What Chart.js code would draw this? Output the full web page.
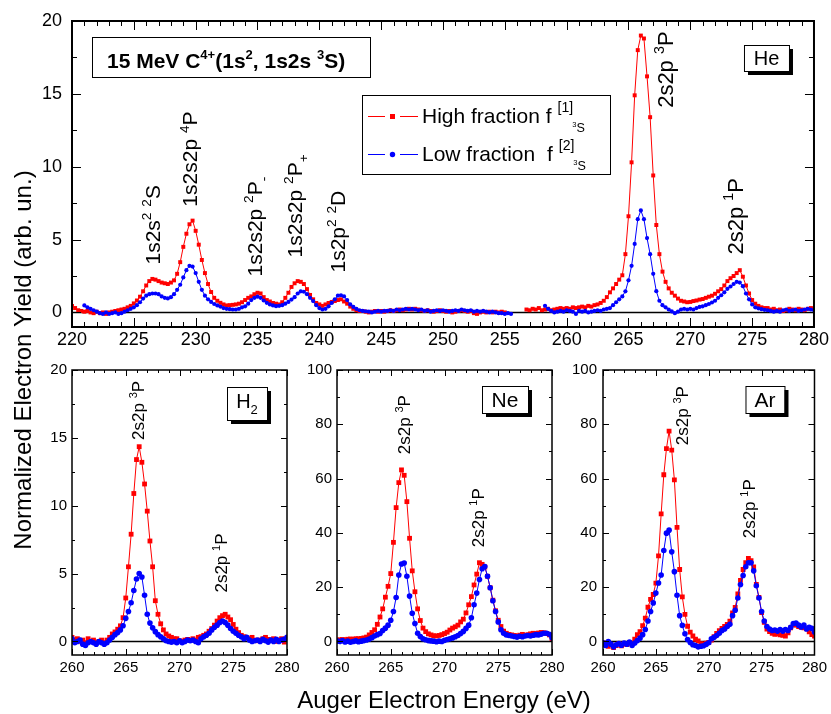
<!DOCTYPE html>
<html>
<head>
<meta charset="utf-8">
<title>Auger spectra, 15 MeV C4+</title>
<script src="https://cdn.jsdelivr.net/npm/chart.js@4.4.1/dist/chart.umd.min.js"></script>
<style>
  html, body { margin: 0; padding: 0; background: #fff; }
  #wrap { position: relative; width: 831px; height: 714px; overflow: hidden; background: #fff; }
  #wrap canvas { position: absolute; left: 0; top: 0; }
</style>
</head>
<body>
<div id="wrap">
  <canvas id="pHe" width="831" height="714"></canvas>
  <canvas id="pH2" width="831" height="714"></canvas>
  <canvas id="pNe" width="831" height="714"></canvas>
  <canvas id="pAr" width="831" height="714"></canvas>
</div>
<script>
// ---- energy grids (eV) ----
const HE_E0 = 220, HE_STEP = 0.25;   // He panel, 220 ... 280
const TG_E0 = 260, TG_STEP = 0.25;   // H2 / Ne / Ar panels, 260 ... 280

// ---- He target: one row per eV (x.00, x.25, x.50, x.75) ----
const HE_HIGH = [
  0.45, 0.30, 0.15, 0.10,   // 220
  0.05, 0.10, 0.00, -0.05,
  0.05, -0.05, 0.00, -0.10,
  0.00, 0.05, 0.10, 0.15,
  0.20, 0.25, 0.35, 0.45,
  0.62, 0.82, 1.08, 1.45,   // 225
  1.85, 2.15, 2.30, 2.25,
  2.15, 2.05, 2.00, 1.95,
  2.05, 2.20, 2.65, 3.45,
  4.50, 5.40, 6.05, 6.30,
  5.60, 4.65, 3.60, 2.70,   // 230
  1.95, 1.40, 1.00, 0.80,
  0.66, 0.55, 0.48, 0.50,
  0.52, 0.55, 0.60, 0.70,
  0.85, 1.00, 1.10, 1.25,
  1.35, 1.30, 1.05, 0.85,   // 235
  0.75, 0.65, 0.60, 0.55,
  0.70, 1.00, 1.35, 1.75,
  2.00, 2.15, 2.10, 1.95,
  1.60, 1.20, 0.90, 0.65,
  0.55, 0.45, 0.55, 0.65,   // 240
  0.72, 0.78, 0.85, 0.90,
  0.75, 0.60, 0.40, 0.25,
  0.15, 0.10, 0.10, 0.05,
  0.00, 0.05, 0.10, 0.05,
  0.10, 0.05, 0.10, 0.15,   // 245
  0.10, 0.15, 0.20, 0.15,
  0.20, 0.25, 0.20, 0.25,
  0.20, 0.15, 0.10, 0.15,
  0.10, 0.05, 0.10, 0.15,
  0.10, 0.05, 0.10, 0.00,   // 250
  0.05, 0.10, 0.15, 0.10,
  0.05, 0.10, -0.05, -0.10,
  0.00, 0.05, 0.00, 0.05,
  0.00, 0.05, 0.00, 0.05,
  0.00, null, null, null,   // 255
  null, null, null, 0.20,
  0.15, 0.25, 0.20, 0.30,
  0.15, 0.20, 0.25, 0.15,
  0.20, 0.25, 0.30, 0.25,
  0.30, 0.25, 0.35, 0.30,   // 260
  0.35, 0.40, 0.35, 0.45,
  0.40, 0.50, 0.55, 0.65,
  0.80, 1.05, 1.38, 1.65,
  1.95, 2.25, 2.55, 4.00,
  6.60, 10.30, 14.90, 18.00, // 265
  19.00, 18.80, 16.20, 13.40,
  9.40, 6.00, 4.00, 2.80,
  2.10, 1.65, 1.35, 1.15,
  0.95, 0.80, 0.75, 0.70,
  0.72, 0.78, 0.82, 0.88,   // 270
  0.92, 1.00, 1.08, 1.15,
  1.28, 1.45, 1.60, 1.85,
  2.15, 2.35, 2.50, 2.70,
  2.90, 2.45, 1.85, 1.30,
  0.85, 0.60, 0.45, 0.35,   // 275
  0.30, 0.30, 0.20, 0.25,
  0.15, 0.20, 0.10, 0.15,
  0.25, 0.20, 0.15, 0.25,
  0.20, 0.15, 0.25, 0.30,
  0.25                      // 280
];
const HE_LOW = [
  null, null, null, null,   // 220
  0.48, 0.35, 0.25, 0.15,
  0.05, -0.05, -0.10, 0.00,
  -0.10, -0.05, 0.00, -0.10,
  -0.05, 0.05, 0.15, 0.25,
  0.35, 0.50, 0.70, 0.95,   // 225
  1.15, 1.25, 1.30, 1.30,
  1.25, 1.10, 1.00, 0.96,
  1.05, 1.25, 1.55, 1.90,
  2.40, 2.90, 3.20, 3.15,
  2.70, 2.10, 1.55, 1.15,   // 230
  0.90, 0.72, 0.58, 0.48,
  0.40, 0.30, 0.25, 0.22,
  0.20, 0.20, 0.25, 0.35,
  0.42, 0.60, 0.85, 1.00,
  1.08, 1.00, 0.82, 0.66,   // 235
  0.55, 0.48, 0.43, 0.45,
  0.50, 0.60, 0.72, 0.88,
  1.05, 1.30, 1.45, 1.42,
  1.25, 1.00, 0.78, 0.50,
  0.30, 0.20, 0.25, 0.42,   // 240
  0.65, 0.90, 1.15, 1.18,
  1.10, 0.85, 0.55, 0.38,
  0.25, 0.15, 0.10, 0.08,
  0.05, 0.00, 0.05, 0.10,
  0.05, 0.10, 0.10, 0.15,   // 245
  0.10, 0.20, 0.15, 0.20,
  0.25, 0.20, 0.25, 0.20,
  0.15, 0.20, 0.10, 0.15,
  0.05, 0.10, 0.15, 0.10,
  0.15, 0.10, 0.05, 0.10,   // 250
  0.15, 0.10, 0.20, 0.15,
  0.10, 0.15, 0.05, 0.10,
  0.05, 0.10, 0.05, 0.00,
  0.05, 0.00, -0.05, -0.05,
  -0.10, -0.05, -0.10, null, // 255
  null, null, null, null,
  null, null, null, null,
  null, 0.45, 0.25, 0.10,
  0.00, 0.05, 0.10, 0.05,
  0.15, 0.10, 0.05, -0.10,  // 260
  0.10, 0.05, 0.10, 0.00,
  0.05, 0.10, 0.15, 0.10,
  0.20, 0.25, 0.30, 0.50,
  0.70, 0.90, 1.10, 1.45,
  2.20, 3.20, 4.70, 6.40,   // 265
  7.00, 6.40, 5.10, 4.00,
  2.65, 1.46, 0.80, 0.50,
  0.35, 0.20, 0.07, -0.05,
  0.05, 0.20, 0.25, 0.20,
  0.25, 0.20, 0.30, 0.38,   // 270
  0.42, 0.50, 0.58, 0.68,
  0.80, 1.00, 1.18, 1.38,
  1.62, 1.78, 1.95, 2.10,
  2.05, 1.80, 1.30, 0.90,
  0.55, 0.35, 0.28, 0.22,   // 275
  0.18, 0.15, 0.10, 0.05,
  0.10, 0.05, 0.15, 0.20,
  0.10, 0.15, 0.20, 0.10,
  0.15, 0.20, 0.25, 0.20,
  0.15                      // 280
];

// ---- H2 target ----
const H2_HIGH = [
  0.3, 0.1, 0.2, 0.0,       // 260
  0.1, -0.1, 0.2, 0.0,
  0.1, -0.1, 0.0, 0.1,
  -0.1, 0.1, 0.3, 0.55,
  0.7, 0.9, 1.15, 1.75,
  3.2, 5.5, 7.9, 10.9,      // 265
  13.4, 14.35, 13.2, 11.6,
  9.6, 7.4, 5.5, 3.0,
  2.0, 1.3, 0.85, 0.55,
  0.4, 0.3, 0.2, 0.2,
  0.05, 0.0, 0.1, 0.15,     // 270
  0.1, 0.2, 0.1, 0.3,
  0.35, 0.45, 0.55, 0.75,
  0.95, 1.2, 1.5, 1.75,
  1.9, 2.0, 1.8, 1.6,
  1.25, 0.9, 0.65, 0.45,    // 275
  0.35, 0.25, 0.2, 0.3,
  0.1, 0.05, 0.1, 0.2,
  0.3, 0.15, 0.1, 0.2,
  0.0, 0.1, 0.2, -0.05,
  0.2                       // 280
];
const H2_LOW = [
  0.2, -0.1, 0.0, 0.1,      // 260
  -0.2, -0.3, -0.1, 0.0,
  -0.1, -0.2, 0.0, -0.1,
  -0.2, -0.1, 0.1, 0.3,
  0.5, 0.65, 0.85, 1.15,
  1.7, 2.2, 2.85, 3.75,     // 265
  4.6, 5.0, 4.75, 3.4,
  2.0, 1.35, 1.0, 0.72,
  0.5, 0.35, 0.2, 0.05,
  0.0, -0.05, 0.0, -0.1,
  0.05, -0.1, 0.0, 0.1,     // 270
  0.05, 0.1, 0.0, -0.1,
  0.2, 0.35, 0.45, 0.6,
  0.85, 1.05, 1.2, 1.4,
  1.5, 1.4, 1.2, 0.95,
  0.75, 0.6, 0.45, 0.35,    // 275
  0.2, 0.3, 0.1, 0.0,
  0.05, 0.1, 0.0, 0.15,
  0.05, -0.05, 0.1, 0.0,
  0.15, 0.0, 0.1, 0.15,
  0.3                       // 280
];

// ---- Ne target ----
const NE_HIGH = [
  0.5, 0.6, 0.7, 0.6,       // 260
  0.8, 0.9, 0.8, 1.0,
  1.0, 1.1, 1.3, 1.6,
  2.4, 3.3, 4.3, 6.3,
  9.0, 12.0, 16.3, 20.3,
  25.0, 36.5, 49.3, 58.5,   // 265
  63.2, 61.2, 51.5, 38.0,
  26.0, 18.3, 12.0, 7.7,
  4.9, 3.6, 2.8, 2.4,
  2.1, 2.0, 2.2, 2.5,
  2.9, 3.4, 4.2, 4.9,       // 270
  5.4, 6.0, 7.2, 8.2,
  10.5, 13.5, 16.5, 20.8,
  24.8, 29.0, 28.4, 27.4,
  24.0, 19.8, 15.2, 11.3,
  7.8, 5.5, 3.8, 3.0,       // 275
  2.6, 2.4, 2.2, 2.0,
  2.3, 2.6, 2.2, 2.5,
  2.8, 3.0, 2.9, 3.1,
  3.3, 3.2, 2.9, 2.4,
  1.0                       // 280
];
const NE_LOW = [
  0.2, 0.0, 0.3, -0.2,      // 260
  0.1, -0.3, 0.0, 0.2,
  -0.1, 0.1, 0.3, 0.5,
  0.9, 1.4, 2.0, 2.5,
  2.9, 4.0, 4.9, 6.0,
  7.8, 11.0, 16.2, 24.5,    // 265
  28.5, 28.9, 24.0, 16.7,
  10.4, 6.6, 3.0, 1.8,
  1.0, 0.6, 0.3, 0.2,
  0.1, -0.1, 0.1, 0.0,
  0.4, 0.7, 1.0, 1.3,       // 270
  1.7, 2.2, 2.9, 3.7,
  4.8, 6.0, 8.7, 13.5,
  17.8, 22.8, 26.8, 27.6,
  24.0, 19.8, 15.0, 11.0,
  7.2, 4.3, 3.0, 2.4,       // 275
  2.2, 2.0, 1.8, 1.6,
  1.9, 1.7, 2.0, 2.2,
  2.0, 2.3, 2.5, 2.4,
  2.7, 3.0, 3.0, 2.6,
  1.4                       // 280
];

// ---- Ar target ----
const AR_HIGH = [
  -1.0, -0.5, -1.8, -1.2,   // 260
  -2.3, -1.5, -0.8, -1.6,
  -0.9, -1.2, -0.5, -0.8,
  0.8, 2.5, 3.6, 5.8,
  8.6, 12.6, 15.5, 17.3,
  21.5, 31.5, 47.0, 61.4,   // 265
  71.0, 77.5, 70.5, 59.5,
  42.0, 26.5, 16.4, 10.0,
  5.6, 3.4, 2.0, 0.8,
  0.2, -0.8, -1.0, -0.6,
  -0.4, 0.5, 1.8, 3.0,      // 270
  4.0, 4.8, 5.5, 6.3,
  7.5, 10.5, 12.5, 17.5,
  22.5, 26.5, 29.0, 30.6,
  29.8, 27.5, 21.0, 16.2,
  10.6, 7.0, 4.5, 3.6,      // 275
  3.0, 2.6, 2.8, 2.4,
  2.2, 2.0, 3.2, 5.0,
  6.1, 6.0, 5.5, 5.2,
  5.0, 4.6, 3.5, 2.5,
  2.0                       // 280
];
const AR_LOW = [
  -0.5, -1.5, 0.0, -1.0,    // 260
  -2.0, -1.2, -0.8, -1.4,
  -0.6, -1.0, -0.2, -1.5,
  -0.6, 0.3, 1.2, 2.5,
  4.4, 7.5, 11.0, 14.2,
  17.8, 21.5, 24.5, 33.5,   // 265
  39.9, 41.0, 33.0, 25.7,
  17.0, 9.5, 5.9, 2.8,
  0.7, -0.4, -1.2, -1.5,
  -2.0, -1.8, -1.6, -1.1,
  -0.5, 1.0, 1.5, 2.2,      // 270
  3.0, 4.0, 4.6, 5.5,
  6.3, 9.5, 11.5, 16.0,
  21.0, 24.3, 27.5, 29.0,
  29.0, 26.0, 20.5, 16.0,
  11.0, 7.5, 5.5, 4.6,      // 275
  4.0, 4.2, 3.8, 4.4,
  3.8, 4.4, 4.0, 5.2,
  6.6, 6.8, 6.0, 5.3,
  6.0, 4.6, 5.2, 4.8,
  3.5                       // 280
];

// ---- axis tick labels ----
const HE_XTICKS = [220, 225, 230, 235, 240, 245, 250, 255, 260, 265, 270, 275, 280];
const HE_YTICKS = [0, 5, 10, 15, 20];
const TG_XTICKS = [260, 265, 270, 275, 280];
const H2_YTICKS = [0, 5, 10, 15, 20];
const NE_YTICKS = [0, 20, 40, 60, 80, 100];
const AR_YTICKS = [0, 20, 40, 60, 80, 100];

const RED = '#ff0000';
const BLUE = '#0000ff';
const FONT = "'Liberation Sans', Arial, Helvetica, sans-serif";

const SUP = (t) => ({ t, s: 0.65, dy: -0.42 });
const SUB = (t) => ({ t, s: 0.65, dy: 0.28 });

function toPoints(e0, step, vals) {
  return vals.map((v, i) => ({ x: +(e0 + i * step).toFixed(2), y: v }));
}

function richWidth(ctx, segs, size, weight) {
  let w = 0;
  for (const sg of segs) {
    ctx.font = `${weight || 'normal'} ${size * (sg.s || 1)}px ${FONT}`;
    w += (sg.dx || 0) + ctx.measureText(sg.t).width;
  }
  return w;
}

function drawRich(ctx, segs, x, y, size, weight) {
  let cx = x;
  for (const sg of segs) {
    ctx.font = `${weight || 'normal'} ${size * (sg.s || 1)}px ${FONT}`;
    cx += sg.dx || 0;
    ctx.fillText(sg.t, cx, y + (sg.dy || 0) * size);
    cx += ctx.measureText(sg.t).width;
  }
  return cx - x;
}

function stepValues(min, max, step) {
  const out = [];
  for (let v = Math.ceil(min / step - 1e-9) * step; v <= max + 1e-9; v += step) out.push(+v.toFixed(4));
  return out;
}

// ---- panel settings ----
const P3 = [{ t: '2s2p ' }, SUP('3'), { t: 'P' }];
const P1 = [{ t: '2s2p ' }, SUP('1'), { t: 'P' }];

const PANELS = {
  pHe: {
    e0: HE_E0, step: HE_STEP, high: HE_HIGH, low: HE_LOW,
    xMin: 220, xMax: 280, yMin: -1, yMax: 20,
    xTicks: HE_XTICKS, yTicks: HE_YTICKS, xMinor: 1, yMinor: 2.5,
    pad: { left: 22, right: 14, top: 21, bottom: 357 }, yW: 50, xH: 30,
    tickFont: 18, xPad: 2, yPad: 10,
    rectR: 2.8, circR: 2.1, majLen: 9, minLen: 5, frameW: 2, zeroW: 1.6,
    tag: { segs: [{ t: 'He' }], size: 20, dxRight: 25, dyTop: 24, w: 45, h: 26 },
    notes: [
      { e: 227.08, v: 3.29, size: 21, segs: [{ t: '1s2s' }, SUP('2'), { t: ' ' }, SUP('2'), { t: 'S' }] },
      { e: 230.14, v: 7.26, size: 21, segs: [{ t: '1s2s2p ' }, SUP('4'), { t: 'P' }] },
      { e: 235.37, v: 2.47, size: 21, segs: [{ t: '1s2s2p ' }, SUP('2'), { t: 'P' }, SUB('-')] },
      { e: 238.58, v: 3.77, size: 21, segs: [{ t: '1s2s2p ' }, SUP('2'), { t: 'P' }, SUB('+')] },
      { e: 242.04, v: 2.74, size: 21, segs: [{ t: '1s2p' }, SUP('2'), { t: ' ' }, SUP('2'), { t: 'D' }] },
      { e: 268.59, v: 14.04, size: 22, segs: P3 },
      { e: 274.22, v: 3.97, size: 22, segs: P1 }
    ]
  },
  pH2: {
    e0: TG_E0, step: TG_STEP, high: H2_HIGH, low: H2_LOW,
    xMin: 260, xMax: 280, yMin: -1, yMax: 20,
    xTicks: TG_XTICKS, yTicks: H2_YTICKS, xMinor: 1, yMinor: 2.5,
    pad: { left: 32, right: 544, top: 370, bottom: 34 }, yW: 40, xH: 25,
    tickFont: 15, xPad: 4, yPad: 5,
    rectR: 3.4, circR: 2.8, majLen: 6, minLen: 3, frameW: 1.5, zeroW: 1.4,
    tag: { segs: [{ t: 'H' }, { t: '2', s: 0.65, dy: 0.3 }], size: 20, dxRight: 20, dyTop: 17, w: 40, h: 33, base: 21 },
    notes: [
      { e: 266.70, v: 14.85, size: 17, segs: P3 },
      { e: 274.42, v: 3.6, size: 17, segs: P1 }
    ]
  },
  pNe: {
    e0: TG_E0, step: TG_STEP, high: NE_HIGH, low: NE_LOW,
    xMin: 260, xMax: 280, yMin: -5, yMax: 100,
    xTicks: TG_XTICKS, yTicks: NE_YTICKS, xMinor: 1, yMinor: 10,
    pad: { left: 297, right: 279, top: 370, bottom: 34 }, yW: 40, xH: 25,
    tickFont: 15, xPad: 4, yPad: 5,
    rectR: 3.4, circR: 2.8, majLen: 6, minLen: 3, frameW: 1.5, zeroW: 1.4,
    tag: { segs: [{ t: 'Ne' }], size: 21, dxRight: 24, dyTop: 16, w: 46, h: 27 },
    notes: [
      { e: 266.79, v: 69.0, size: 17, segs: P3 },
      { e: 273.67, v: 34.7, size: 17, segs: P1 }
    ]
  },
  pAr: {
    e0: TG_E0, step: TG_STEP, high: AR_HIGH, low: AR_LOW,
    xMin: 260, xMax: 280, yMin: -5, yMax: 100,
    xTicks: TG_XTICKS, yTicks: AR_YTICKS, xMinor: 1, yMinor: 10,
    pad: { left: 563, right: 14, top: 370, bottom: 34 }, yW: 40, xH: 25,
    tickFont: 15, xPad: 4, yPad: 6,
    rectR: 3.4, circR: 2.8, majLen: 6, minLen: 3, frameW: 1.5, zeroW: 1.4,
    tag: { segs: [{ t: 'Ar' }], size: 21, dxRight: 30, dyTop: 16, w: 39, h: 27 },
    notes: [
      { e: 268.04, v: 72.3, size: 17, segs: P3 },
      { e: 274.39, v: 38.0, size: 17, segs: P1 }
    ]
  }
};

// frame, inward ticks, baseline, level labels and target tag
const panelPlugin = {
  id: 'panelDecor',
  beforeDatasetsDraw(chart) {
    const cfg = PANELS[chart.canvas.id];
    const { ctx, chartArea: a, scales: { y } } = chart;
    const y0 = y.getPixelForValue(0);
    ctx.save();
    ctx.strokeStyle = '#000';
    ctx.lineWidth = cfg.zeroW;
    ctx.beginPath();
    ctx.moveTo(a.left, y0);
    ctx.lineTo(a.right, y0);
    ctx.stroke();
    ctx.restore();
  },
  afterDatasetsDraw(chart) {
    const cfg = PANELS[chart.canvas.id];
    const { ctx, chartArea: a, scales: { x, y } } = chart;
    ctx.save();
    ctx.strokeStyle = '#000';
    ctx.lineWidth = 1;
    const xMinor = stepValues(cfg.xMin, cfg.xMax, cfg.xMinor).filter(v => !cfg.xTicks.includes(v));
    const yMinor = stepValues(cfg.yMin, cfg.yMax, cfg.yMinor).filter(v => !cfg.yTicks.includes(v));
    ctx.beginPath();
    const xt = (vals, len) => vals.forEach(v => {
      const px = Math.round(x.getPixelForValue(v)) + 0.5;
      ctx.moveTo(px, a.bottom); ctx.lineTo(px, a.bottom - len);
      ctx.moveTo(px, a.top); ctx.lineTo(px, a.top + len);
    });
    const yt = (vals, len) => vals.forEach(v => {
      const py = Math.round(y.getPixelForValue(v)) + 0.5;
      ctx.moveTo(a.left, py); ctx.lineTo(a.left + len, py);
      ctx.moveTo(a.right, py); ctx.lineTo(a.right - len, py);
    });
    xt(cfg.xTicks, cfg.majLen); xt(xMinor, cfg.minLen);
    yt(cfg.yTicks, cfg.majLen); yt(yMinor, cfg.minLen);
    ctx.stroke();

    ctx.lineWidth = cfg.frameW;
    ctx.strokeRect(a.left, a.top, a.right - a.left, a.bottom - a.top);

    // state labels, reading upwards
    ctx.fillStyle = '#000';
    ctx.textBaseline = 'alphabetic';
    ctx.textAlign = 'left';
    for (const n of cfg.notes) {
      ctx.save();
      ctx.translate(x.getPixelForValue(n.e), y.getPixelForValue(n.v));
      ctx.rotate(-Math.PI / 2);
      drawRich(ctx, n.segs, 0, 0, n.size);
      ctx.restore();
    }

    // target tag with drop shadow
    const t = cfg.tag;
    const bx = a.right - t.dxRight - t.w, by = a.top + t.dyTop;
    ctx.fillStyle = '#000';
    ctx.fillRect(bx + 4, by + 4, t.w, t.h);
    ctx.fillStyle = '#fff';
    ctx.fillRect(bx, by, t.w, t.h);
    ctx.lineWidth = 1;
    ctx.strokeRect(bx + 0.5, by + 0.5, t.w, t.h);
    ctx.fillStyle = '#000';
    const tw = richWidth(ctx, t.segs, t.size);
    const base = t.base !== undefined ? by + t.base : by + t.h / 2 + 0.36 * t.size;
    drawRich(ctx, t.segs, bx + (t.w - tw) / 2, base, t.size);
    ctx.restore();
  }
};

// title box, legend and shared axis titles (drawn once, on the He panel)
const sheetPlugin = {
  id: 'sheetDecor',
  afterDraw(chart) {
    if (chart.canvas.id !== 'pHe') return;
    const ctx = chart.ctx;
    ctx.save();
    ctx.fillStyle = '#000';
    ctx.strokeStyle = '#000';
    ctx.textAlign = 'left';
    ctx.textBaseline = 'alphabetic';

    // projectile box
    ctx.fillStyle = '#fff';
    ctx.fillRect(92, 37, 278, 40);
    ctx.lineWidth = 1;
    ctx.strokeRect(92.5, 37.5, 278, 40);
    ctx.fillStyle = '#000';
    drawRich(ctx, [
      { t: '15 MeV C' }, { t: '4+', s: 0.62, dy: -0.45 }, { t: '(1s' }, { t: '2', s: 0.62, dy: -0.45 },
      { t: ', 1s2s ' }, { t: '3', s: 0.62, dy: -0.45 }, { t: 'S)' }
    ], 107, 68, 21, 'bold');

    // legend
    ctx.fillStyle = '#fff';
    ctx.fillRect(362, 95, 248, 79);
    ctx.strokeRect(362.5, 95.5, 248, 79);
    const rows = [
      { c: RED, y: 116, base: 123, mark: 'rect', segs: [{ t: 'High fraction f' }, { t: '[1]', s: 0.67, dy: -0.52, dx: 6 }, { t: '3', s: 0.36, dy: 0.2, dx: -1 }, { t: 'S', s: 0.6, dy: 0.42 }] },
      { c: BLUE, y: 154, base: 161, mark: 'circle', segs: [{ t: 'Low fraction  f' }, { t: '[2]', s: 0.67, dy: -0.52, dx: 6 }, { t: '3', s: 0.36, dy: 0.2, dx: -1 }, { t: 'S', s: 0.6, dy: 0.42 }] }
    ];
    for (const r of rows) {
      ctx.strokeStyle = r.c;
      ctx.lineWidth = 1;
      ctx.beginPath();
      ctx.moveTo(368, r.y + 0.5); ctx.lineTo(385, r.y + 0.5);
      ctx.moveTo(400, r.y + 0.5); ctx.lineTo(418, r.y + 0.5);
      ctx.stroke();
      ctx.fillStyle = r.c;
      if (r.mark === 'rect') {
        ctx.fillRect(390, r.y - 2, 5, 5);
      } else {
        ctx.beginPath(); ctx.arc(392.5, r.y + 0.5, 2.7, 0, Math.PI * 2); ctx.fill();
      }
      ctx.fillStyle = '#000';
      drawRich(ctx, r.segs, 422, r.base, 21);
    }

    // axis titles
    ctx.font = `24px ${FONT}`;
    ctx.textAlign = 'center';
    ctx.fillText('Auger Electron Energy (eV)', 444, 708);
    ctx.save();
    ctx.translate(31, 360);
    ctx.rotate(-Math.PI / 2);
    ctx.fillText('Normalized Electron Yield (arb. un.)', 0, 0);
    ctx.restore();
    ctx.restore();
  }
};

function makePanel(id) {
  const cfg = PANELS[id];
  const tickFont = { family: FONT, size: cfg.tickFont };
  return new Chart(document.getElementById(id), {
    type: 'line',
    data: {
      datasets: [
        {
          label: 'High fraction',
          data: toPoints(cfg.e0, cfg.step, cfg.high),
          borderColor: RED, backgroundColor: RED,
          pointBackgroundColor: RED, pointBorderColor: RED,
          pointStyle: 'rect', pointRadius: cfg.rectR, pointBorderWidth: 0,
          borderWidth: 1, tension: 0, order: 2
        },
        {
          label: 'Low fraction',
          data: toPoints(cfg.e0, cfg.step, cfg.low),
          borderColor: BLUE, backgroundColor: BLUE,
          pointBackgroundColor: BLUE, pointBorderColor: BLUE,
          pointStyle: 'circle', pointRadius: cfg.circR, pointBorderWidth: 0,
          borderWidth: 1, tension: 0, order: 1
        }
      ]
    },
    options: {
      responsive: false,
      animation: false,
      devicePixelRatio: 1,
      events: [],
      spanGaps: false,
      layout: { padding: cfg.pad },
      plugins: { legend: { display: false }, tooltip: { enabled: false } },
      scales: {
        x: {
          type: 'linear', min: cfg.xMin, max: cfg.xMax,
          grid: { display: false, drawTicks: false, drawOnChartArea: false },
          border: { display: false },
          ticks: { font: tickFont, color: '#000', padding: cfg.xPad, maxRotation: 0, autoSkip: false },
          afterBuildTicks: (s) => { s.ticks = cfg.xTicks.map(v => ({ value: v })); },
          afterFit: (s) => { s.height = cfg.xH; }
        },
        y: {
          type: 'linear', min: cfg.yMin, max: cfg.yMax,
          grid: { display: false, drawTicks: false, drawOnChartArea: false },
          border: { display: false },
          ticks: { font: tickFont, color: '#000', padding: cfg.yPad, autoSkip: false },
          afterBuildTicks: (s) => { s.ticks = cfg.yTicks.map(v => ({ value: v })); },
          afterFit: (s) => { s.width = cfg.yW; }
        }
      }
    },
    plugins: [panelPlugin, sheetPlugin]
  });
}

['pHe', 'pH2', 'pNe', 'pAr'].forEach(makePanel);
</script>
</body>
</html>
